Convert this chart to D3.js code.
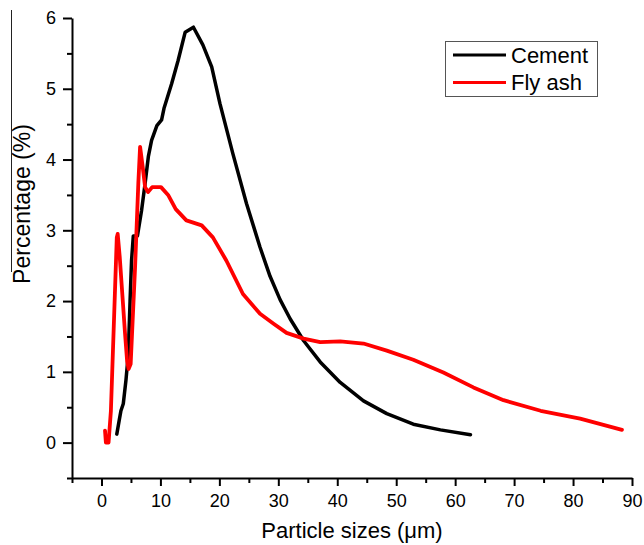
<!DOCTYPE html>
<html>
<head>
<meta charset="utf-8">
<script src="https://cdn.jsdelivr.net/npm/d3@7"></script>
<style>
  body { margin: 0; background: #fff; }
  text { font-family: "Liberation Sans", Arial, sans-serif; }
</style>
</head>
<body>
<div id="chart"></div>
<script>
// particle size distribution
const cementX = [2.6, 3.0, 3.3, 3.7, 4.15, 4.55, 4.85, 5.1, 5.4, 6.1, 6.8, 7.4, 7.95, 8.5, 9.4, 10.2, 10.6, 11.9, 13.0, 14.2, 15.6, 17.2, 18.7, 20.1, 22.3, 24.6, 26.9, 28.6, 30.3, 32.0, 34.3, 37.1, 40.5, 44.45, 48.4, 52.9, 57.5, 62.6];
const cementY = [0.12, 0.31, 0.45, 0.55, 0.88, 1.25, 2.0, 2.57, 2.92, 2.92, 3.28, 3.66, 4.04, 4.27, 4.48, 4.56, 4.72, 5.07, 5.40, 5.80, 5.87, 5.62, 5.31, 4.79, 4.08, 3.38, 2.76, 2.35, 2.02, 1.75, 1.44, 1.14, 0.85, 0.59, 0.41, 0.26, 0.18, 0.11];

const flyAshX = [0.6, 0.75, 1.2, 1.6, 2.6, 2.75, 3.1, 4.0, 4.35, 4.6, 4.95, 5.7, 6.25, 6.55, 7.0, 7.4, 7.9, 8.6, 10.1, 11.3, 12.6, 14.4, 17.0, 18.9, 21.2, 24.0, 26.9, 29.2, 31.4, 34.3, 37.1, 40.5, 44.45, 48.4, 52.9, 58.0, 63.1, 68.2, 74.5, 81.2, 88.3];
const flyAshY = [0.17, 0.0, 0.0, 0.45, 2.9, 2.95, 2.62, 1.54, 1.15, 1.04, 1.11, 2.48, 3.66, 4.18, 3.89, 3.61, 3.54, 3.61, 3.61, 3.50, 3.30, 3.14, 3.07, 2.90, 2.57, 2.10, 1.82, 1.68, 1.55, 1.47, 1.42, 1.43, 1.40, 1.30, 1.17, 0.99, 0.78, 0.60, 0.45, 0.34, 0.18];

const seriesNames = ["Cement", "Fly ash"];
const seriesColors = ["#000000", "#ff0000"];

const xTicks = [0, 10, 20, 30, 40, 50, 60, 70, 80, 90];
const yTicks = [0, 1, 2, 3, 4, 5, 6];

const width = 644, height = 545;
const margin = {top: 18, right: 12, bottom: 67, left: 72};

const svg = d3.select('#chart').append('svg')
    .attr('width', width)
    .attr('height', height);

const x = d3.scaleLinear()
    .domain([-5, 90])
    .range([margin.left, width - margin.right]);

const y = d3.scaleLinear()
    .domain([-0.5, 6])
    .range([height - margin.bottom, margin.top]);

// minor ticks first, then major ones with labels
svg.append('g')
    .attr('transform', `translate(0,${height - margin.bottom})`)
    .call(d3.axisBottom(x).tickValues(d3.range(-5, 90, 10)).tickSize(5).tickFormat(''))
    .call(g => g.select('.domain').remove())
    .selectAll('line').attr('stroke-width', 2);

const xAxis = svg.append('g')
    .attr('transform', `translate(0,${height - margin.bottom})`)
    .call(d3.axisBottom(x).tickValues(xTicks).tickSize(8).tickSizeOuter(0).tickPadding(8).tickFormat(d3.format('d')));
xAxis.select('.domain').attr('stroke-width', 2);
xAxis.selectAll('line').attr('stroke-width', 2);
xAxis.selectAll('text').attr('font-size', 18).attr('fill', '#000');

svg.append('g')
    .attr('transform', `translate(${margin.left},0)`)
    .call(d3.axisLeft(y).tickValues(d3.range(-0.5, 6, 1)).tickSize(5).tickFormat(''))
    .call(g => g.select('.domain').remove())
    .selectAll('line').attr('stroke-width', 2);

const yAxis = svg.append('g')
    .attr('transform', `translate(${margin.left},0)`)
    .call(d3.axisLeft(y).tickValues(yTicks).tickSize(9).tickSizeOuter(0).tickPadding(7).tickFormat(d3.format('d')));
yAxis.select('.domain').attr('stroke-width', 2);
yAxis.selectAll('line').attr('stroke-width', 2);
yAxis.selectAll('text').attr('font-size', 18).attr('fill', '#000');

// axis titles
svg.append('text')
    .attr('x', (x(-5) + x(90)) / 2)
    .attr('y', 538)
    .attr('text-anchor', 'middle')
    .attr('font-size', 22)
    .text('Particle sizes (μm)');

svg.append('text')
    .attr('transform', 'translate(30,204) rotate(-90)')
    .attr('text-anchor', 'middle')
    .attr('font-size', 23)
    .text('Percentage (%)');

// stray line along the y title
svg.append('line')
    .attr('x1', 11.5).attr('x2', 11.5)
    .attr('y1', 10).attr('y2', 272)
    .attr('stroke', '#222')
    .attr('stroke-width', 1);

const line = d3.line()
    .x(d => x(d[0]))
    .y(d => y(d[1]));

const series = [
    d3.zip(cementX, cementY),
    d3.zip(flyAshX, flyAshY)
];

svg.selectAll('path.series')
    .data(series)
    .enter()
    .append('path')
    .attr('class', 'series')
    .attr('fill', 'none')
    .attr('stroke', (d, i) => seriesColors[i])
    .attr('stroke-width', (d, i) => i === 1 ? 3.8 : 3.5)
    .attr('stroke-linejoin', 'round')
    .attr('stroke-linecap', 'round')
    .attr('d', line);

// legend
const legend = svg.append('g');
legend.append('rect')
    .attr('x', 445.5).attr('y', 41.5)
    .attr('width', 152).attr('height', 55)
    .attr('fill', '#fff')
    .attr('stroke', '#555')
    .attr('stroke-width', 1);

seriesNames.forEach((name, i) => {
    const ly = 55 + i * 27.5;
    legend.append('line')
        .attr('x1', 453).attr('x2', 506)
        .attr('y1', ly).attr('y2', ly)
        .attr('stroke', seriesColors[i])
        .attr('stroke-width', 3);
    legend.append('text')
        .attr('x', 511).attr('y', ly)
        .attr('dy', '0.36em')
        .attr('font-size', 22)
        .text(name);
});
</script>
</body>
</html>
